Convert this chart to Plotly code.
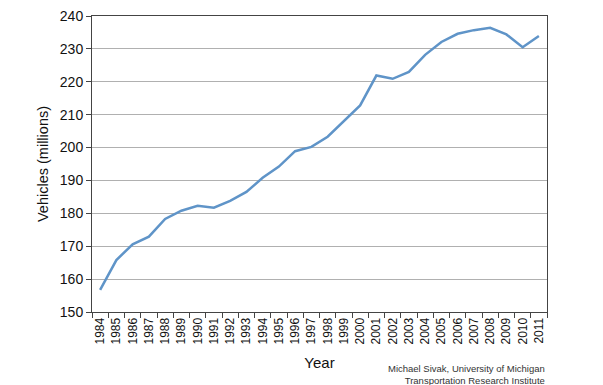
import plotly.graph_objects as go

years = [str(y) for y in range(1984, 2012)]
vehicles = [156.7, 165.8, 170.6, 172.9, 178.3, 180.8, 182.3, 181.7, 183.8, 186.5,
            190.8, 194.2, 198.9, 200.2, 203.3, 207.9, 212.8, 221.9, 220.9, 223.0,
            228.2, 232.1, 234.6, 235.7, 236.4, 234.4, 230.5, 233.9]
y_ticks = [150, 160, 170, 180, 190, 200, 210, 220, 230, 240]

FONT = "Liberation Sans, Arial, sans-serif"

fig = go.Figure()
fig.add_trace(go.Scatter(x=years, y=vehicles, mode="lines",
                         line=dict(color="#5f94c8", width=2.5), showlegend=False))

fig.update_layout(
    width=603, height=385,
    margin=dict(l=92, r=56, t=16, b=73, autoexpand=False),
    paper_bgcolor="white", plot_bgcolor="white",
    font=dict(family=FONT, color="#111111"),
)
fig.update_xaxes(
    type="category", range=[-0.5, len(years) - 0.5],
    tickson="boundaries", ticks="outside", ticklen=5,
    tickcolor="#444444", tickangle=-90, tickfont=dict(size=12, family=FONT),
    showline=True, linecolor="#444444", linewidth=1, mirror=True,
    showgrid=False, automargin=False,
    title=dict(text="Year", font=dict(size=15, family=FONT), standoff=13),
)
fig.update_yaxes(
    range=[150, 240], tickvals=y_ticks, ticks="outside", ticklen=5,
    tickcolor="#444444", tickfont=dict(size=14, family=FONT),
    showline=True, linecolor="#444444", linewidth=1, mirror=True,
    showgrid=True, gridcolor="#b0b0b0", gridwidth=1, zeroline=False,
    automargin=False,
    title=dict(text="Vehicles (millions)", font=dict(size=14.5, family=FONT), standoff=7),
)
fig.add_annotation(
    text="Michael Sivak, University of Michigan<br>Transportation Research Institute",
    xref="paper", yref="paper", x=1, y=0, xanchor="right", yanchor="top",
    yshift=-49, align="right", showarrow=False,
    font=dict(size=9.5, family=FONT, color="#333333"),
)
fig.write_html("out.html", config={"displayModeBar": False},
               post_script="document.body.style.margin='0';document.body.style.padding='0';")
